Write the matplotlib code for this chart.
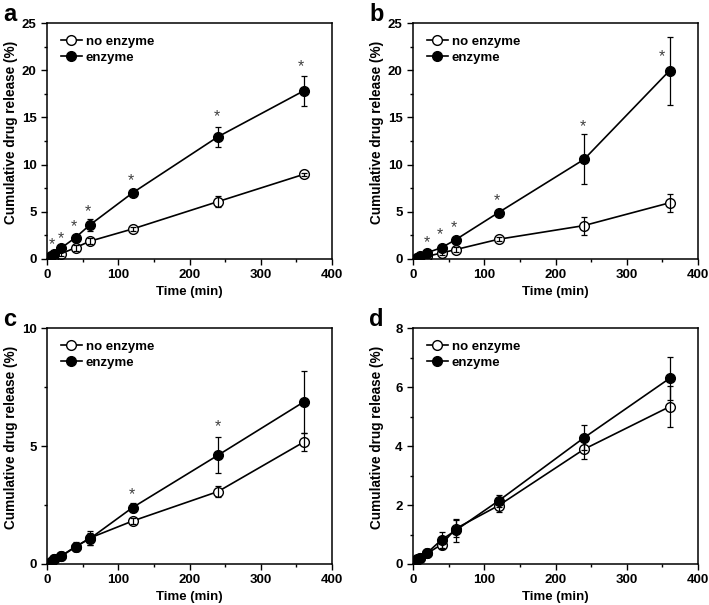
import matplotlib
matplotlib.use("Agg")
import matplotlib.pyplot as plt
from matplotlib.ticker import MultipleLocator

plt.rcParams['font.family'] = ['Liberation Sans', 'DejaVu Sans']
plt.rcParams['font.weight'] = 'bold'

times = [5, 10, 20, 40, 60, 120, 240, 360]

a_no = [0.15, 0.3, 0.57, 1.2, 1.88, 3.18, 6.08, 8.96]
a_no_err = [0.05, 0.1, 0.25, 0.3, 0.3, 0.2, 0.6, 0.2]
a_en = [0.28, 0.5, 1.17, 2.27, 3.6, 7.0, 12.95, 17.8]
a_en_err = [0.05, 0.1, 0.2, 0.3, 0.6, 0.2, 1.05, 1.55]
a_star_x = [7, 20, 38, 58, 118, 238, 357]
a_star_y = [2.05, 2.69, 3.93, 5.52, 8.78, 15.6, 20.9]

b_no = [0.08, 0.15, 0.28, 0.64, 1.0, 2.09, 3.54, 5.95]
b_no_err = [0.05, 0.1, 0.15, 0.2, 0.25, 0.2, 0.95, 0.95]
b_en = [0.15, 0.28, 0.67, 1.2, 2.05, 4.92, 10.55, 19.95]
b_en_err = [0.05, 0.1, 0.15, 0.2, 0.2, 0.3, 2.65, 3.6]
b_star_x = [19, 37.5, 57, 118, 239, 350]
b_star_y = [2.23, 3.05, 3.82, 6.66, 14.55, 22.0]

c_no = [0.1, 0.2, 0.33, 0.72, 1.1, 1.82, 3.07, 5.16]
c_no_err = [0.1, 0.1, 0.1, 0.15, 0.3, 0.12, 0.25, 0.38]
c_en = [0.1, 0.2, 0.34, 0.74, 1.07, 2.39, 4.61, 6.86]
c_en_err = [0.1, 0.1, 0.1, 0.2, 0.25, 0.2, 0.76, 1.3]
c_star_x = [119, 239.5]
c_star_y = [3.14, 6.04]

d_no = [0.15, 0.2, 0.36, 0.66, 1.2, 1.98, 3.89, 5.33]
d_no_err = [0.1, 0.1, 0.1, 0.15, 0.3, 0.22, 0.33, 0.7]
d_en = [0.18, 0.22, 0.38, 0.82, 1.14, 2.14, 4.28, 6.29]
d_en_err = [0.1, 0.1, 0.1, 0.28, 0.38, 0.2, 0.43, 0.74]
d_star_x = []
d_star_y = []

panel_labels = ['a', 'b', 'c', 'd']
y_max = [25, 25, 10, 8]
y_major = [5, 5, 5, 2]
y_minor = [2.5, 2.5, 2.5, 1]

panels = [
    (a_no, a_no_err, a_en, a_en_err, a_star_x, a_star_y),
    (b_no, b_no_err, b_en, b_en_err, b_star_x, b_star_y),
    (c_no, c_no_err, c_en, c_en_err, c_star_x, c_star_y),
    (d_no, d_no_err, d_en, d_en_err, d_star_x, d_star_y),
]

W, H = 709, 605
fig = plt.figure(figsize=(W / 100, H / 100), dpi=100)

boxes = [(47, 23), (413, 23), (47, 328), (413, 328)]
aw, ah = 285, 236
star_fs = 11.5

for i, (no, no_err, en, en_err, sx, sy) in enumerate(panels):
    lx, ty = boxes[i]
    ax = fig.add_axes([lx / W, 1 - (ty + ah) / H, aw / W, ah / H])
    ax.plot(times, no, '-', color='black', lw=1.2, marker='o', ms=7,
            mfc='white', mec='black', mew=1.0, label='no enzyme', zorder=2)
    ax.errorbar(times, no, yerr=no_err, fmt='none', ecolor='black',
                elinewidth=0.9, capsize=2.5, capthick=0.9, zorder=3)
    ax.plot(times, en, '-', color='black', lw=1.2, marker='o', ms=7,
            mfc='black', mec='black', mew=1.0, label='enzyme', zorder=4)
    ax.errorbar(times, en, yerr=en_err, fmt='none', ecolor='black',
                elinewidth=0.9, capsize=2.5, capthick=0.9, zorder=4)
    for x, y in zip(sx, sy):
        ax.annotate('*', xy=(x, y), xytext=(0, -0.585 * star_fs),
                    textcoords='offset points', ha='center', va='baseline',
                    fontsize=star_fs, fontweight='normal', color='#404040')

    ax.set_xlim(0, 400)
    ax.set_ylim(0, y_max[i])
    ax.xaxis.set_major_locator(MultipleLocator(100))
    ax.xaxis.set_minor_locator(MultipleLocator(50))
    ax.yaxis.set_major_locator(MultipleLocator(y_major[i]))
    ax.yaxis.set_minor_locator(MultipleLocator(y_minor[i]))
    ax.tick_params(which='both', direction='out', top=False, right=False,
                   labelsize=9.5, width=1.0)
    ax.tick_params(which='major', length=4.5, pad=3)
    ax.tick_params(which='minor', length=2.5)
    for lab in ax.get_xticklabels() + ax.get_yticklabels():
        lab.set_fontweight('bold')
    for sp in ax.spines.values():
        sp.set_linewidth(1.1)
    ax.set_xlabel('Time (min)', fontsize=9.5, fontweight='bold', labelpad=3)
    ax.set_ylabel('Cumulative drug release (%)', fontsize=9.8,
                  fontweight='bold')
    ax.yaxis.set_label_coords(-0.103, 0.535)
    leg = ax.legend(loc='upper left', bbox_to_anchor=(0.02, 0.98), frameon=False,
                    fontsize=9.5, handlelength=1.6, handletextpad=0.3,
                    labelspacing=0.3, borderaxespad=0.2)
    for t in leg.get_texts():
        t.set_fontweight('bold')
    fig.text((lx - 44) / W, 1 - (ty - 20) / H, panel_labels[i], fontsize=17,
             fontweight='bold', ha='left', va='top')

fig.savefig('out.png', dpi=100)
